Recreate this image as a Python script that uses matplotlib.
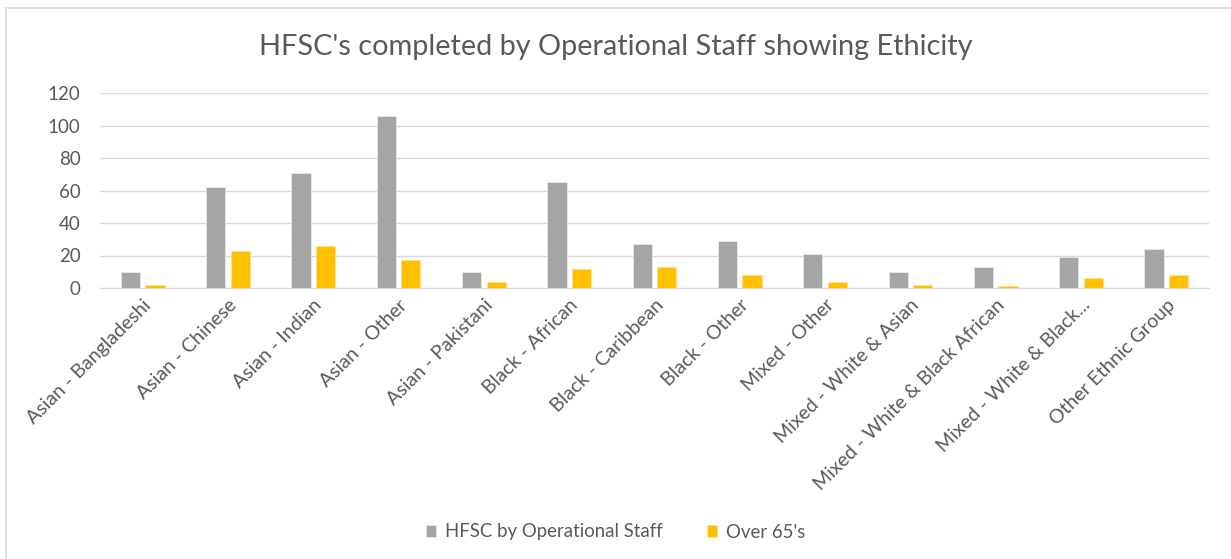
import matplotlib.pyplot as plt
import numpy as np

categories = [
    "Asian - Bangladeshi", "Asian - Chinese", "Asian - Indian", "Asian - Other",
    "Asian - Pakistani", "Black - African", "Black - Caribbean", "Black - Other",
    "Mixed - Other", "Mixed - White & Asian", "Mixed - White & Black African",
    "Mixed - White & Black...", "Other Ethnic Group",
]
hfsc_staff = [10, 62, 71, 106, 10, 65, 27, 29, 21, 10, 13, 19, 24]
over_65s = [2, 23, 26, 17, 4, 12, 13, 8, 4, 2, 1, 6, 8]
y_ticks = [0, 20, 40, 60, 80, 100, 120]

text_grey = '#595959'
plt.rcParams['font.family'] = ['Lato', 'DejaVu Sans']

fig = plt.figure(figsize=(12.31, 5.59), dpi=100)
ax = fig.add_axes([100 / 1231, 1 - 288 / 559, 1109 / 1231, 195 / 559])

# light border round the chart area
fig.add_artist(plt.Rectangle((6 / 1231, -0.1), 1.2, 1 - 8 / 559 + 0.1,
                             transform=fig.transFigure, fill=False,
                             ec='#d9d9d9', lw=1.2))

x = np.arange(len(categories))
w = 0.225
ax.bar(x - 0.144, hfsc_staff, w, color='#a5a5a5', ec='#e8e8e8', lw=0.6,
       label='HFSC by Operational Staff', zorder=3)
ax.bar(x + 0.144, over_65s, w, color='#ffc000', ec='#ffe08a', lw=0.6,
       label="Over 65's", zorder=3)

ax.set_xlim(-0.5, len(categories) - 0.5)
ax.set_ylim(0, 120)
ax.set_yticks(y_ticks)
ax.grid(axis='y', color='#d9d9d9', lw=1, zorder=0)
for s in ['top', 'right', 'left']:
    ax.spines[s].set_visible(False)
ax.spines['bottom'].set_color('#d9d9d9')
ax.tick_params(axis='both', length=0, colors=text_grey)
ax.tick_params(axis='y', pad=14, labelsize=13.5)
ax.tick_params(axis='x', pad=6, labelsize=14)
ax.set_xticks(x)
ax.set_xticklabels(categories, rotation=45, ha='right', rotation_mode='anchor')

fig.text(0.5, 1 - 47 / 559, "HFSC's completed by Operational Staff showing Ethicity",
         ha='center', va='center', fontsize=20.8, color=text_grey)

leg = fig.legend(loc='center', bbox_to_anchor=(0.5, 1 - 532 / 559), ncol=2,
                 frameon=False, fontsize=13.4, handlelength=0.55, handleheight=0.55,
                 handletextpad=0.45, columnspacing=2.4)
for t in leg.get_texts():
    t.set_color(text_grey)

fig.savefig('out.png', dpi=100)
